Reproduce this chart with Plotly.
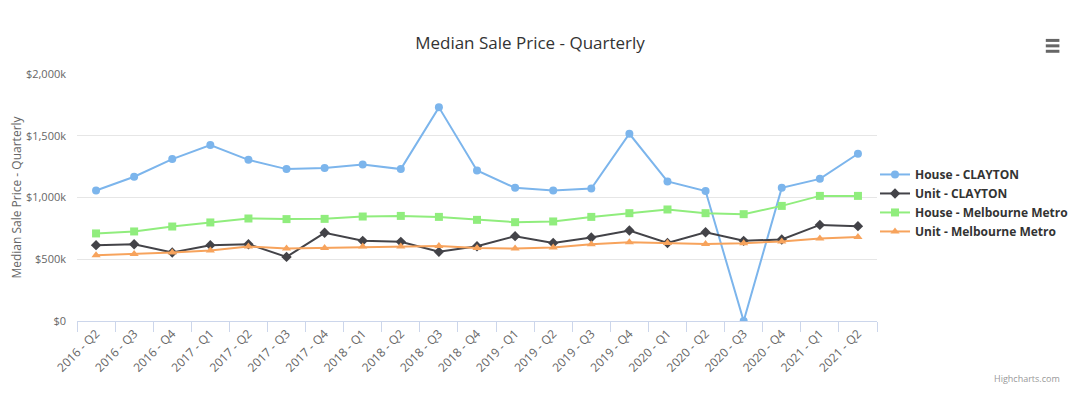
import plotly.graph_objects as go

quarters = ["2016 - Q2", "2016 - Q3", "2016 - Q4", "2017 - Q1", "2017 - Q2", "2017 - Q3",
            "2017 - Q4", "2018 - Q1", "2018 - Q2", "2018 - Q3", "2018 - Q4", "2019 - Q1",
            "2019 - Q2", "2019 - Q3", "2019 - Q4", "2020 - Q1", "2020 - Q2", "2020 - Q3",
            "2020 - Q4", "2021 - Q1", "2021 - Q2"]

house_clayton = [1057, 1168, 1311, 1425, 1305, 1230, 1238, 1268, 1230, 1730, 1219,
                 1078, 1057, 1073, 1516, 1130, 1052, 0, 1078, 1151, 1354]
unit_clayton = [614, 622, 555, 614, 622, 519, 714, 649, 641, 560, 605,
                687, 632, 676, 733, 632, 719, 649, 660, 778, 768]
house_metro = [709, 725, 765, 798, 830, 825, 827, 846, 851, 843, 819,
               800, 806, 843, 873, 903, 873, 865, 932, 1013, 1013]
unit_metro = [533, 543, 555, 571, 603, 587, 592, 603, 603, 608, 592,
              587, 595, 622, 638, 632, 624, 630, 644, 668, 681]

series_names = ["House - CLAYTON", "Unit - CLAYTON", "House - Melbourne Metro", "Unit - Melbourne Metro"]
series_values = [house_clayton, unit_clayton, house_metro, unit_metro]
colors = ["#7cb5ec", "#434348", "#90ed7d", "#f7a35c"]
symbols = ["circle", "diamond", "square", "triangle-up"]
sizes = [8, 8, 8, 8]

y_tickvals = [0, 500, 1000, 1500, 2000]
y_ticktext = ["$0", "$500k", "$1,000k", "$1,500k", "$2,000k"]

FONT = "Open Sans, DejaVu Sans, sans-serif"

fig = go.Figure()
for name, vals, c, s, sz in zip(series_names, series_values, colors, symbols, sizes):
    fig.add_trace(go.Scatter(
        x=quarters, y=vals, name=name, mode="lines+markers",
        line=dict(color=c, width=2),
        marker=dict(color=c, symbol=s, size=sz, line=dict(width=0)),
    ))

# page has an 8px body margin, so the figure is 16px smaller and offset by 8px
fig.update_layout(
    width=1064, height=379,
    margin=dict(l=69, r=195, t=66, b=66, autoexpand=False),
    paper_bgcolor="white", plot_bgcolor="white",
    font=dict(family=FONT, color="#666666", size=11),
    title=dict(text="Median Sale Price - Quarterly", x=0.4906, xanchor="center",
               y=0.9077, yanchor="middle",
               font=dict(family=FONT, size=17, color="#333333")),
    showlegend=True,
    legend=dict(x=0.9975, y=0.652, xanchor="left", yanchor="top",
                font=dict(family=FONT, size=12, color="#333333", weight="bold"),
                bgcolor="rgba(0,0,0,0)", tracegroupgap=0, itemwidth=30),
    xaxis=dict(
        type="category", tickangle=-45, tickson="boundaries", automargin=False,
        range=[-0.5, len(quarters) - 0.5],
        ticks="outside", ticklen=10, tickcolor="#ccd6eb",
        showline=True, linecolor="#ccd6eb", linewidth=1,
        showgrid=False, zeroline=False,
        tickfont=dict(size=12, color="#666666"),
    ),
    yaxis=dict(
        range=[0, 2000], tickvals=y_tickvals, ticktext=y_ticktext, automargin=False,
        showgrid=True, gridcolor="#e6e6e6", gridwidth=1,
        zeroline=False, showline=False, ticklabelstandoff=10,
        title=dict(text="Median Sale Price - Quarterly", standoff=17,
                   font=dict(size=12, color="#666666")),
        tickfont=dict(size=11, color="#666666"),
    ),
)

# hamburger menu icon
for yy in [1.136, 1.114, 1.092]:
    fig.add_shape(type="line", xref="paper", yref="paper",
                  x0=1.211, x1=1.228, y0=yy, y1=yy,
                  line=dict(color="#666666", width=3))

fig.add_annotation(text="Highcharts.com", xref="paper", yref="paper",
                   x=1.231, y=-0.231, xanchor="right", yanchor="middle",
                   showarrow=False, font=dict(size=9, color="#999999"))

fig.write_html("out.html")
